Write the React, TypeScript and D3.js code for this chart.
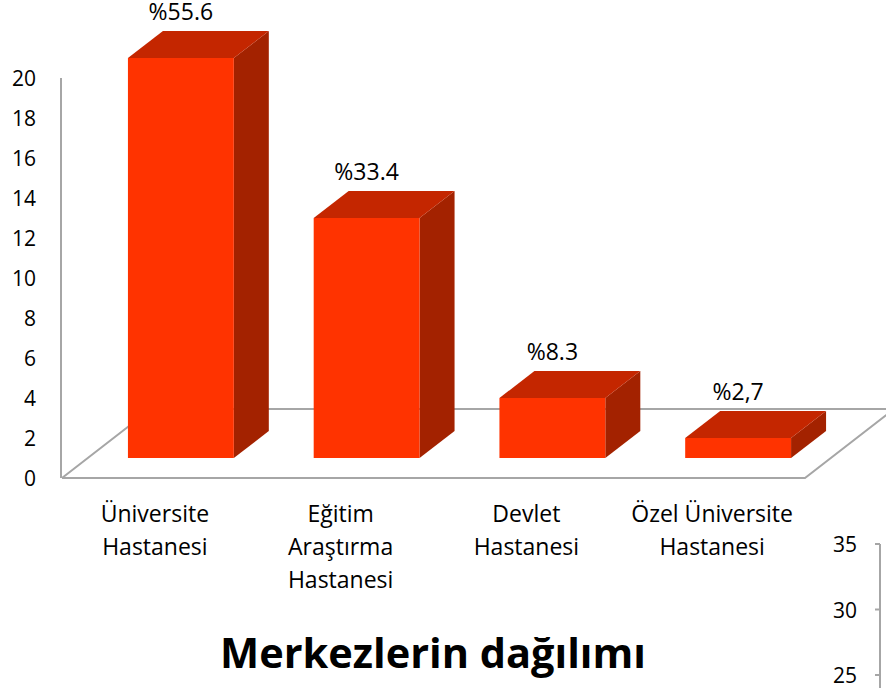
import * as d3 from 'd3'
import React from 'react'

const categories = [
  ['Üniversite', 'Hastanesi'],
  ['Eğitim', 'Araştırma', 'Hastanesi'],
  ['Devlet', 'Hastanesi'],
  ['Özel Üniversite', 'Hastanesi'],
]
const values = [20, 12, 3, 1]
const valueLabels = ['%55.6', '%33.4', '%8.3', '%2,7']
const yTicks = [0, 2, 4, 6, 8, 10, 12, 14, 16, 18, 20]
const y2Ticks = [25, 30, 35]
const title = 'Merkezlerin dağılımı'

const W = 886, H = 688
const font = "'Open Sans', 'Liberation Sans', sans-serif"

export default function App() {
  const
    // front plane of the floor
    x = d3.scaleBand<number>().domain(d3.range(categories.length)).range([62, 805]).paddingInner(0.43).paddingOuter(0.215),
    y = d3.scaleLinear().domain([0, 20]).range([478, 78]),
    y2 = d3.scaleLinear().domain([25, 35]).range([675, 544]),
    floorD = { dx: 89, dy: -69 },
    barShift = { dx: 26, dy: -20 }, // bars sit in the middle of the floor depth
    barD = { dx: 35, dy: -27 },
    grey = '#a6a6a6'

  const floor = `M${x.range()[0]},${y(0)} L${x.range()[0] + floorD.dx},${y(0) + floorD.dy} L${W + 20},${y(0) + floorD.dy}`
  const floorRight = `M${x.range()[0]},${y(0)} L${x.range()[1]},${y(0)} L${x.range()[1] + floorD.dx},${y(0) + floorD.dy}`

  return (
    <svg width={W} height={H} style={{ position: 'absolute', left: 0, top: 0, background: '#fff' }}>
      <path d={floor} fill='none' stroke={grey} strokeWidth={2} />
      <path d={floorRight} fill='none' stroke={grey} strokeWidth={2} />
      <line x1={61} x2={61} y1={y(20)} y2={y(0)} stroke={grey} strokeWidth={2} />
      {yTicks.map(t => (
        <text key={t} x={36} y={y(t) + 8} textAnchor='end' fontFamily={font} fontSize={21} fill='#000'>{t}</text>
      ))}
      {values.map((v, i) => {
        const
          x0 = x(i)! + barShift.dx,
          x1 = x0 + x.bandwidth(),
          yb = y(0) + barShift.dy,
          yt = y(v) + barShift.dy
        return (
          <g key={i}>
            <path d={`M${x1},${yt} L${x1 + barD.dx},${yt + barD.dy} L${x1 + barD.dx},${yb + barD.dy} L${x1},${yb} Z`} fill='#a32200' />
            <path d={`M${x0},${yt} L${x0 + barD.dx},${yt + barD.dy} L${x1 + barD.dx},${yt + barD.dy} L${x1},${yt} Z`} fill='#c42600' />
            <rect x={x0} y={yt} width={x1 - x0} height={yb - yt} fill='#ff3300' />
            <text x={(x0 + x1) / 2} y={yt - 38} textAnchor='middle' fontFamily={font} fontSize={23} fill='#000'>{valueLabels[i]}</text>
          </g>
        )
      })}
      {categories.map((lines, i) => (
        <text key={i} textAnchor='middle' fontFamily={font} fontSize={23} fill='#000'>
          {lines.map((l, j) => (
            <tspan key={j} x={x(i)! + x.bandwidth() / 2} y={522 + j * 33}>{l}</tspan>
          ))}
        </text>
      ))}
      <line x1={880} x2={880} y1={y2(35)} y2={H} stroke={grey} strokeWidth={2} />
      {y2Ticks.map(t => (
        <g key={t}>
          <line x1={875} x2={880} y1={y2(t)} y2={y2(t)} stroke={grey} strokeWidth={2} />
          <text x={857} y={y2(t) + 8} textAnchor='end' fontFamily={font} fontSize={21} fill='#000'>{t}</text>
        </g>
      ))}
      <text x={433} y={668} textAnchor='middle' fontFamily={font} fontSize={41.5} fontWeight='bold' fill='#000'>{title}</text>
    </svg>
  )
}
